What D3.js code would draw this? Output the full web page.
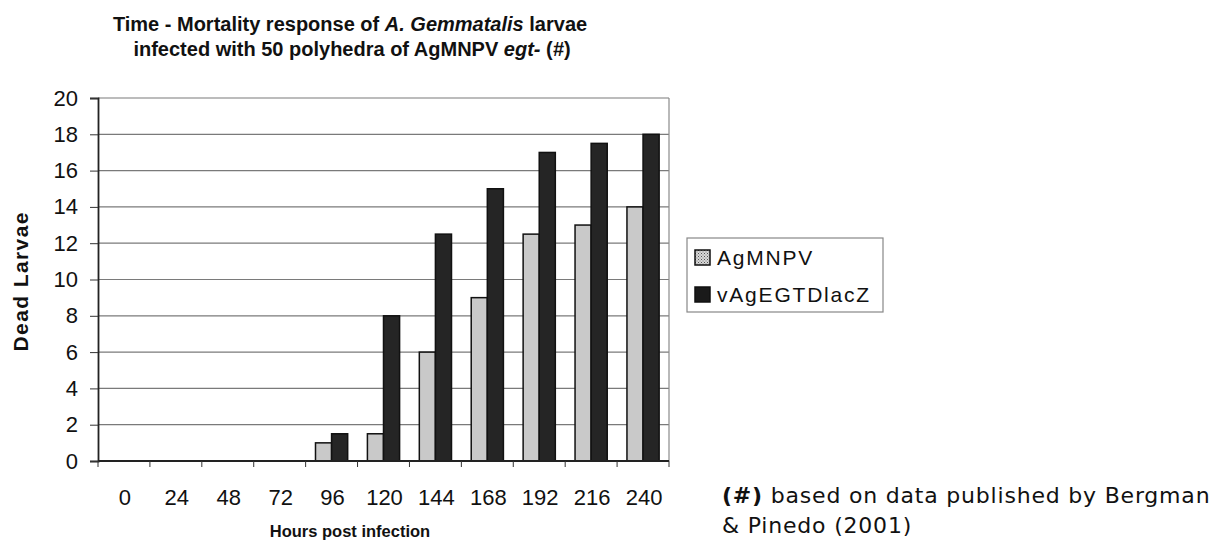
<!DOCTYPE html>
<html>
<head>
<meta charset="utf-8">
<script src="https://cdn.jsdelivr.net/npm/d3@7"></script>
<style>
  body { margin: 0; background: #fff; }
  text { font-family: "Liberation Sans", Arial, sans-serif; }
</style>
</head>
<body>
<div id="chart"></div>
<script>
var hours = ["0", "24", "48", "72", "96", "120", "144", "168", "192", "216", "240"];
var seriesNames = ["AgMNPV", "vAgEGTDlacZ"];
var agmnpv = [0, 0, 0, 0, 1, 1.5, 6, 9, 12.5, 13, 14];
var vagegt = [0, 0, 0, 0, 1.5, 8, 12.5, 15, 17, 17.5, 18];
var yTicks = [0, 2, 4, 6, 8, 10, 12, 14, 16, 18, 20];

var margin = {top: 98, right: 563, bottom: 83, left: 98}
    , width = 1232 - margin.left - margin.right
    , height = 544 - margin.top - margin.bottom;

var svg = d3.select("#chart").append("svg")
    .attr("width", 1232)
    .attr("height", 544);

var defs = svg.append("defs");
var pat = defs.append("pattern")
    .attr("id", "dots")
    .attr("width", 3).attr("height", 3)
    .attr("patternUnits", "userSpaceOnUse");
pat.append("rect").attr("width", 3).attr("height", 3).attr("fill", "#d8d8d8");
pat.append("rect").attr("width", 1).attr("height", 1).attr("fill", "#555");
pat.append("rect").attr("x", 1.5).attr("y", 1.5).attr("width", 1).attr("height", 1).attr("fill", "#777");

var main = svg.append("g")
    .attr("transform", "translate(" + margin.left + "," + margin.top + ")");

var x = d3.scaleBand()
    .domain(hours)
    .range([0, width])
    .paddingInner(0.38)
    .paddingOuter(0.19);

var xs = d3.scaleBand()
    .domain(seriesNames)
    .range([0, x.bandwidth()]);

var y = d3.scaleLinear()
    .domain([0, 20])
    .range([height, 0]);

// gridlines
main.append("g")
    .selectAll("line")
    .data(yTicks.slice(1))
    .enter().append("line")
    .attr("x1", 0)
    .attr("x2", width)
    .attr("y1", function (d) { return y(d); })
    .attr("y2", function (d) { return y(d); })
    .style("stroke", "#7a7a7a")
    .style("stroke-width", "1.2px");

// right border
main.append("line")
    .attr("x1", width).attr("x2", width)
    .attr("y1", 0).attr("y2", height)
    .style("stroke", "#8a8a8a")
    .style("stroke-width", "1.2px");

// bars
var groups = main.append("g")
    .selectAll("g")
    .data(hours)
    .enter().append("g")
    .attr("transform", function (d) { return "translate(" + x(d) + ",0)"; });

groups.append("rect")
    .attr("x", xs("AgMNPV"))
    .attr("width", xs.bandwidth())
    .attr("y", function (d, i) { return y(agmnpv[i]); })
    .attr("height", function (d, i) { return height - y(agmnpv[i]); })
    .style("fill", "#c9c9c9")
    .style("stroke", "#111")
    .style("stroke-width", "1.5px");

groups.append("rect")
    .attr("x", xs("vAgEGTDlacZ"))
    .attr("width", xs.bandwidth())
    .attr("y", function (d, i) { return y(vagegt[i]); })
    .attr("height", function (d, i) { return height - y(vagegt[i]); })
    .style("fill", "#252525")
    .style("stroke", "#111")
    .style("stroke-width", "1.5px");

// y axis
var yAxis = main.append("g")
    .call(d3.axisLeft(y).tickValues(yTicks).tickSize(8).tickPadding(12));
yAxis.selectAll("text")
    .style("font-size", "22px")
    .attr("fill", "#111");
yAxis.selectAll("line").attr("stroke", "#333");
yAxis.select(".domain").attr("stroke", "#222").attr("stroke-width", 1.8);

// x axis: ticks on band boundaries
var xAxis = main.append("g")
    .attr("transform", "translate(0," + height + ")");
xAxis.append("line")
    .attr("x1", 0).attr("x2", width)
    .attr("y1", 0).attr("y2", 0)
    .style("stroke", "#222")
    .style("stroke-width", "1.8px");
var step = x.step();
xAxis.selectAll("line.tick")
    .data(d3.range(hours.length + 1))
    .enter().append("line")
    .attr("class", "tick")
    .attr("x1", function (d) { return d * step; })
    .attr("x2", function (d) { return d * step; })
    .attr("y1", 0).attr("y2", 6)
    .style("stroke", "#333");
xAxis.selectAll("text.lab")
    .data(hours)
    .enter().append("text")
    .attr("class", "lab")
    .attr("x", function (d) { return x(d) + x.bandwidth() / 2 + 1; })
    .attr("y", 44)
    .attr("text-anchor", "middle")
    .style("font-size", "22px")
    .attr("fill", "#111")
    .text(function (d) { return d; });

// axis titles
svg.append("text")
    .attr("transform", "translate(28," + 282 + ") rotate(-90)")
    .attr("text-anchor", "middle")
    .attr("textLength", 139)
    .attr("lengthAdjust", "spacing")
    .style("font-size", "21px")
    .style("font-weight", "bold")
    .attr("fill", "#111")
    .text("Dead Larvae");

svg.append("text")
    .attr("x", 350)
    .attr("y", 537)
    .attr("text-anchor", "middle")
    .style("font-size", "16.5px")
    .style("font-weight", "bold")
    .attr("fill", "#111")
    .text("Hours post infection");

// title
var title = svg.append("text")
    .attr("text-anchor", "middle")
    .style("font-size", "20px")
    .style("font-weight", "bold")
    .attr("fill", "#111");
var t1 = title.append("tspan").attr("x", 350).attr("y", 31);
t1.append("tspan").text("Time - Mortality response of ");
t1.append("tspan").style("font-style", "italic").text("A. Gemmatalis");
t1.append("tspan").text(" larvae");
var t2 = title.append("tspan").attr("x", 352).attr("y", 56);
t2.append("tspan").text("infected with 50 polyhedra of AgMNPV ");
t2.append("tspan").style("font-style", "italic").text("egt-");
t2.append("tspan").text(" (");
t2.append("tspan").style("font-style", "italic").text("#");
t2.append("tspan").text(")");

// legend
var legend = svg.append("g").attr("transform", "translate(687,238)");
legend.append("rect")
    .attr("width", 196).attr("height", 74)
    .style("fill", "#fff")
    .style("stroke", "#888")
    .style("stroke-width", "1.2px");
var items = legend.selectAll("g.item")
    .data(seriesNames)
    .enter().append("g")
    .attr("class", "item")
    .attr("transform", function (d, i) { return "translate(8," + (12 + i * 37) + ")"; });
items.append("rect")
    .attr("width", 15).attr("height", 15)
    .style("fill", function (d, i) { return i === 0 ? "url(#dots)" : "#1a1a1a"; })
    .style("stroke", "#111")
    .style("stroke-width", "1.5px");
items.append("text")
    .attr("x", 22)
    .attr("y", 15)
    .style("font-size", "21px")
    .style("letter-spacing", "1.8px")
    .attr("fill", "#111")
    .text(function (d) { return d; });

// footnote
var foot = svg.append("text")
    .style("font-family", "'DejaVu Sans', sans-serif")
    .style("font-size", "22px")
    .style("letter-spacing", "0.8px")
    .attr("fill", "#111");
var f1 = foot.append("tspan").attr("x", 722).attr("y", 503);
f1.append("tspan").style("font-weight", "bold").text("(#)");
f1.append("tspan").text(" based on data published by Bergman");
foot.append("tspan").attr("x", 722).attr("y", 533).text("& Pinedo (2001)");
</script>
</body>
</html>
